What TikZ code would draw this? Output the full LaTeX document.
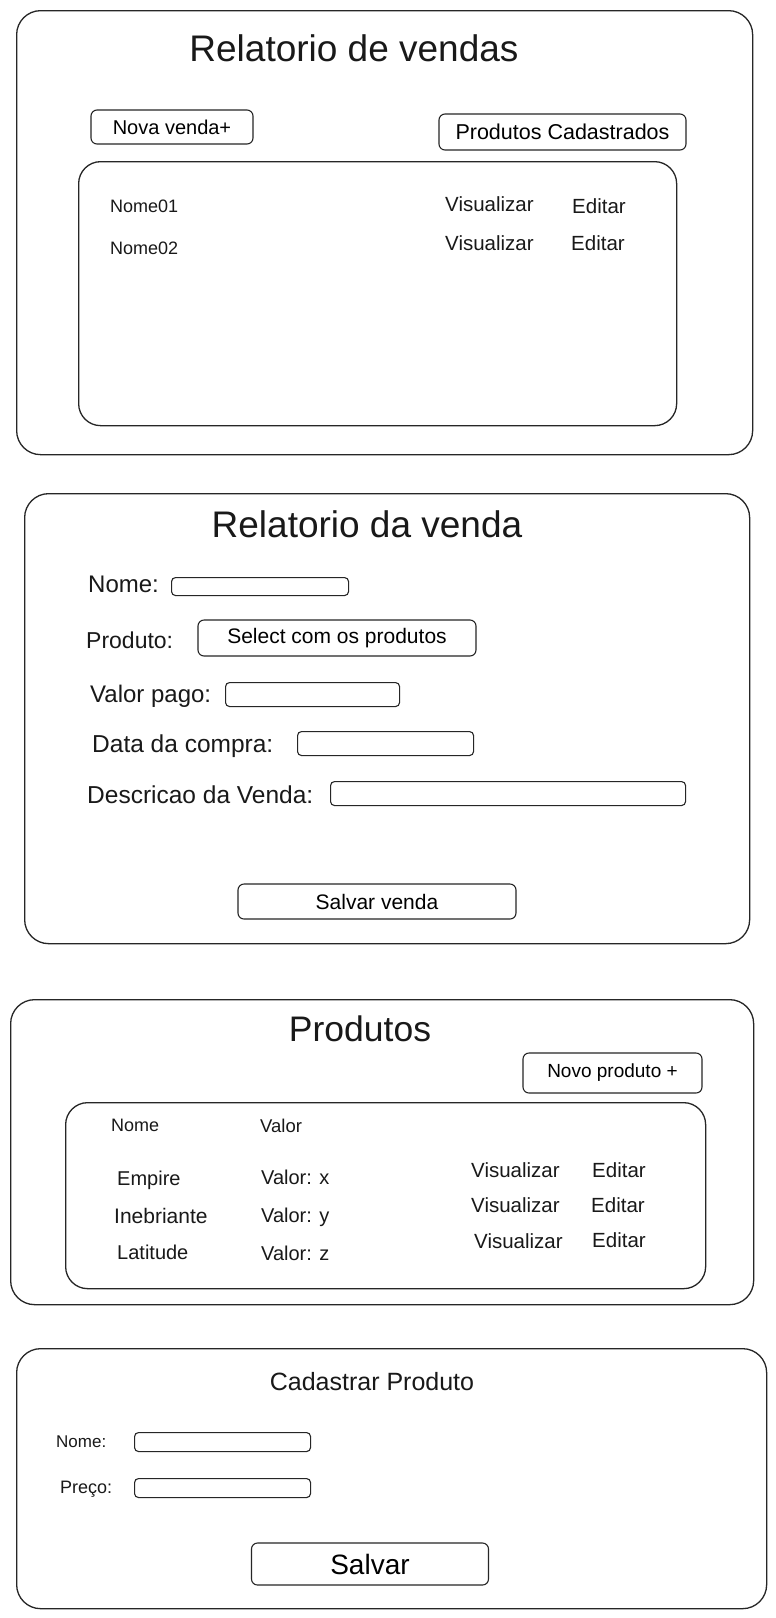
\documentclass[tikz,border=0pt]{standalone}
\usepackage{fontspec}
\setmainfont{Liberation Sans}
\newcommand\mysz[1]{\fontsize{#1}{#1}\selectfont}
\tikzset{
  panel/.style={draw=black!85, line width=1.3pt, rounded corners=24pt},
  inner/.style={draw=black!85, line width=1.3pt, rounded corners=22pt},
  btn/.style={draw=black!85, line width=1.1pt, rounded corners=6pt, inner sep=0pt},
  field/.style={draw=black!85, line width=1.1pt, rounded corners=4pt},
  lbl/.style={inner sep=0pt, anchor=mid west, text=black!90, yshift=-4pt},
  ttl/.style={inner sep=0pt, anchor=mid, text=black!90, yshift=-7pt},
}
\begin{document}
\begin{tikzpicture}[x=1pt,y=-1pt]
\useasboundingbox[fill=white] (0,0) rectangle (776,1618);

% ---------- Panel 1 ----------
\node[panel, minimum width=736pt, minimum height=444pt, anchor=north west] (p1) at (16,10) {};
\node[ttl, font=\mysz{37}] (t1) at (354,52) {Relatorio de vendas};
\node[btn, minimum width=162pt, minimum height=34pt, font=\mysz{20}] (nova) at (172,127) {Nova venda+};
\node[btn, minimum width=247pt, minimum height=36pt, font=\mysz{21.5}] (prodcad) at (562.5,132) {Produtos Cadastrados};
\node[inner, minimum width=598pt, minimum height=264pt, anchor=north west] (l1) at (78,161) {};
\node[lbl, font=\mysz{18}] (n01) at (110,206) {Nome01};
\node[lbl, font=\mysz{18}] (n02) at (110,248) {Nome02};
\node[lbl, font=\mysz{20.5}] (v01) at (445,205) {Visualizar};
\node[lbl, font=\mysz{20.5}] (e01) at (572,207) {Editar};
\node[lbl, font=\mysz{20.5}] (v02) at (445,244) {Visualizar};
\node[lbl, font=\mysz{20.5}] (e02) at (571,244) {Editar};

% ---------- Panel 2 ----------
\node[panel, minimum width=725pt, minimum height=450pt, anchor=north west] (p2) at (24,493) {};
\node[ttl, font=\mysz{37}] (t2) at (367,528) {Relatorio da venda};
\node[lbl, font=\mysz{24}] (lnome) at (88,586) {Nome:};
\node[field, minimum width=177pt, minimum height=18pt, anchor=north west, inner sep=0pt] (fnome) at (171,577) {};
\node[lbl, font=\mysz{23}] (lprod) at (86,642) {Produto:};
\node[btn, minimum width=278pt, minimum height=36pt, font=\mysz{21}] (sel) at (337,638) {Select com os produtos};
\node[lbl, font=\mysz{24}] (lval) at (90,696) {Valor pago:};
\node[field, minimum width=174pt, minimum height=24pt, anchor=north west, inner sep=0pt] (fval) at (225,682) {};
\node[lbl, font=\mysz{24.5}] (ldata) at (92,746) {Data da compra:};
\node[field, minimum width=176pt, minimum height=24pt, anchor=north west, inner sep=0pt] (fdata) at (297,731) {};
\node[lbl, font=\mysz{24.5}] (ldesc) at (87,797) {Descricao da Venda:};
\node[field, minimum width=355pt, minimum height=24pt, anchor=north west, inner sep=0pt] (fdesc) at (330,781) {};
\node[btn, minimum width=278pt, minimum height=35pt, font=\mysz{21}] (salvv) at (377,901.5) {Salvar venda};

% ---------- Panel 3 ----------
\node[panel, minimum width=743pt, minimum height=305pt, anchor=north west] (p3) at (10,999) {};
\node[ttl, font=\mysz{35.5}] (t3) at (360,1032) {Produtos};
\node[btn, minimum width=179pt, minimum height=40pt, font=\mysz{19}] (novop) at (612.5,1073) {Novo produto +};
\node[inner, minimum width=640pt, minimum height=186pt, anchor=north west] (l3) at (65,1102) {};
\node[lbl, font=\mysz{18}] (hnome) at (111,1125) {Nome};
\node[lbl, font=\mysz{18.5}] (hval) at (260,1126) {Valor};
\node[lbl, font=\mysz{20}] (emp) at (117,1179) {Empire};
\node[lbl, font=\mysz{20}] (vx) at (261,1178) {Valor: x};
\node[lbl, font=\mysz{21}] (ineb) at (114,1217) {Inebriante};
\node[lbl, font=\mysz{20}] (vy) at (261,1216) {Valor: y};
\node[lbl, font=\mysz{20}] (lat) at (117,1253) {Latitude};
\node[lbl, font=\mysz{20}] (vz) at (261,1254) {Valor: z};
\node[lbl, font=\mysz{20.5}] (pv1) at (471,1171) {Visualizar};
\node[lbl, font=\mysz{20.5}] (pe1) at (592,1171) {Editar};
\node[lbl, font=\mysz{20.5}] (pv2) at (471,1206) {Visualizar};
\node[lbl, font=\mysz{20.5}] (pe2) at (591,1206) {Editar};
\node[lbl, font=\mysz{20.5}] (pv3) at (474,1242) {Visualizar};
\node[lbl, font=\mysz{20.5}] (pe3) at (592,1241) {Editar};

% ---------- Panel 4 ----------
\node[panel, minimum width=750pt, minimum height=260pt, anchor=north west] (p4) at (16,1348) {};
\node[ttl, font=\mysz{25}] (t4) at (372,1381) {Cadastrar Produto};
\node[lbl, font=\mysz{17}] (l4n) at (56,1441) {Nome:};
\node[field, minimum width=176pt, minimum height=19pt, anchor=north west, inner sep=0pt] (f4n) at (134,1432) {};
\node[lbl, font=\mysz{18}] (l4p) at (60,1487) {Preço:};
\node[field, minimum width=176pt, minimum height=19pt, anchor=north west, inner sep=0pt] (f4p) at (134,1478) {};
\node[btn, minimum width=237pt, minimum height=42pt, font=\mysz{28}] (salv) at (370,1564) {Salvar};
\end{tikzpicture}
\end{document}
